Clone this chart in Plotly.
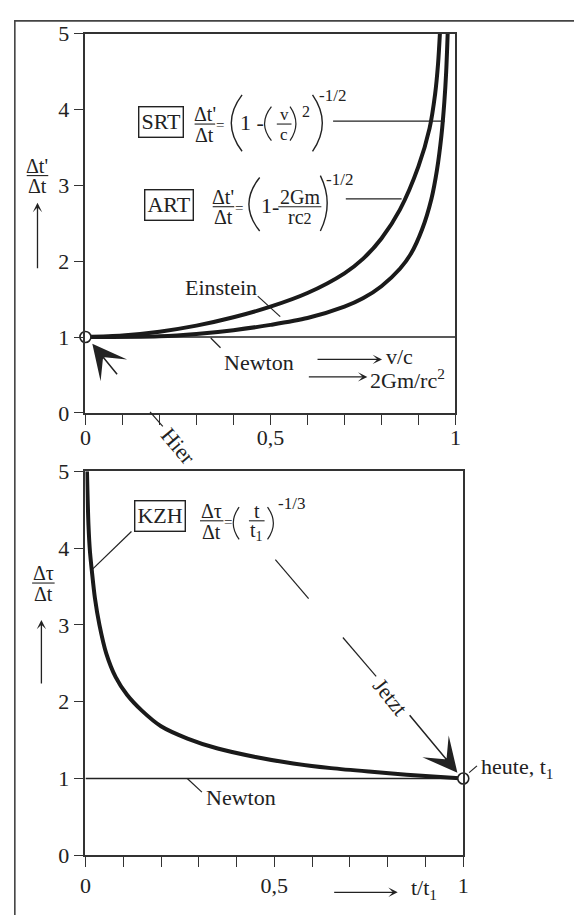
import plotly.graph_objects as go

# values
art_x = [0, 0.1, 0.2, 0.3, 0.4, 0.5, 0.6, 0.7, 0.75, 0.8, 0.85, 0.9, 0.93, 0.945, 0.953, 0.958]
art_y = [1.0, 1.02, 1.07, 1.15, 1.26, 1.40, 1.58, 1.84, 2.03, 2.30, 2.68, 3.25, 3.75, 4.2, 4.6, 5.0]

srt_x = [0, 0.2, 0.3, 0.4, 0.5, 0.6, 0.7, 0.75, 0.8, 0.85, 0.88, 0.91, 0.935, 0.95, 0.962,
         0.97, 0.975, 0.979]
srt_y = [1.0, 1.01, 1.04, 1.09, 1.16, 1.25, 1.40, 1.51, 1.67, 1.90, 2.10, 2.42, 2.82, 3.2, 3.65,
         4.1, 4.5, 5.0]

kzh_x = [0.004, 0.008, 0.012, 0.017, 0.025, 0.037, 0.055, 0.08, 0.11, 0.15, 0.2, 0.27, 0.35,
         0.45, 0.55, 0.65, 0.75, 0.85, 1.0]
kzh_y = [5.0, 4.3, 3.95, 3.7, 3.35, 3.0, 2.63, 2.32, 2.09, 1.88, 1.68, 1.52, 1.39,
         1.28, 1.195, 1.135, 1.09, 1.05, 1.0]

newton_x = [0, 1]
newton_y = [1, 1]

x_ticks = [0, 0.1, 0.2, 0.3, 0.4, 0.5, 0.6, 0.7, 0.8, 0.9, 1]
x_tick_text = ["0", "", "", "", "", "0,5", "", "", "", "", "1"]
y_ticks = [0, 1, 2, 3, 4, 5]
y_tick_text = ["0", "1", "2", "3", "4", "5"]

# the page keeps its 8px body margin, so the figure is 16px smaller than the window
OFF = 8
W, H = 582 - 2 * OFF, 923 - 2 * OFF
SERIF = "Liberation Serif"
INK = "#222222"


def px(x):
    return (x - OFF) / W


def py(y):
    return 1 - (y - OFF) / H


annotations = []
shapes = []


def label(x, y, text, size=22, xanchor="center", yanchor="middle", **kw):
    annotations.append(dict(x=px(x), y=py(y), xref="paper", yref="paper", text=text,
                            xanchor=xanchor, yanchor=yanchor, showarrow=False,
                            font=dict(family=SERIF, size=size, color=INK), **kw))


def seg(x0, y0, x1, y1, w=1.2):
    shapes.append(dict(type="line", xref="paper", yref="paper", x0=px(x0), y0=py(y0),
                       x1=px(x1), y1=py(y1), line=dict(color=INK, width=w)))


def paren(x_end, x_mid, y0, y1, w=1.4):
    c = 2 * x_mid - x_end
    path = f"M {px(x_end)},{py(y0)} Q {px(c)},{py((y0 + y1) / 2)} {px(x_end)},{py(y1)}"
    shapes.append(dict(type="path", xref="paper", yref="paper", path=path,
                       line=dict(color=INK, width=w)))


def frac(cx, ybar, w, num, den, size=20, up=10, dn=11):
    label(cx, ybar - up, num, size)
    label(cx, ybar + dn, den, size)
    seg(cx - w / 2, ybar, cx + w / 2, ybar, 1.1)


def arrow(x0, y0, x1, y1, size=1.2, width=1.3, head=3):
    annotations.append(dict(x=px(x1), y=py(y1), xref="paper", yref="paper", text="",
                            showarrow=True, ax=x0 - x1, ay=y0 - y1, arrowhead=head,
                            arrowsize=size, arrowwidth=width, arrowcolor=INK, standoff=0))


fig = go.Figure()

curve = dict(color="#1a1a1a", width=4)
fig.add_trace(go.Scatter(x=newton_x, y=newton_y, mode="lines", line=dict(color=INK, width=1.3),
                         xaxis="x", yaxis="y"))
fig.add_trace(go.Scatter(x=art_x, y=art_y, mode="lines",
                         line=dict(shape="spline", smoothing=0.8, **curve), xaxis="x", yaxis="y"))
fig.add_trace(go.Scatter(x=srt_x, y=srt_y, mode="lines",
                         line=dict(shape="spline", smoothing=0.8, **curve), xaxis="x", yaxis="y"))
fig.add_trace(go.Scatter(x=[0], y=[1], mode="markers", cliponaxis=False,
                         marker=dict(size=11, color="white", line=dict(color=INK, width=1.6)),
                         xaxis="x", yaxis="y"))

fig.add_trace(go.Scatter(x=newton_x, y=newton_y, mode="lines", line=dict(color=INK, width=1.3),
                         xaxis="x2", yaxis="y2"))
fig.add_trace(go.Scatter(x=kzh_x, y=kzh_y, mode="lines",
                         line=dict(shape="spline", smoothing=0.8, **curve), xaxis="x2", yaxis="y2"))
fig.add_trace(go.Scatter(x=[1], y=[1], mode="markers", cliponaxis=False,
                         marker=dict(size=11, color="white", line=dict(color=INK, width=1.6)),
                         xaxis="x2", yaxis="y2"))

axis = dict(showline=True, linecolor="#333333", linewidth=1.5, mirror=True, ticks="outside",
            ticklen=10, tickwidth=1.4, tickcolor="#333333", showgrid=False, zeroline=False,
            fixedrange=True, tickfont=dict(family=SERIF, size=22, color=INK))

# top panel: SRT / ART
label(158, 113, "SRT", 22, bordercolor=INK, borderwidth=1.4, borderpad=2)
frac(203, 115, 21, "Δt'", "Δt")
label(218, 116, "=", 15)
paren(241, 230, 85, 143)
label(251, 113, "1 -", 22)
paren(271, 264, 97, 132, 1.2)
frac(284, 115, 15, "v", "c", 17)
paren(290, 296, 97, 132, 1.2)
label(306, 102, "2", 16)
paren(313, 323, 85, 143)
label(333, 86, "-1/2", 17)
seg(334, 112, 448, 112)

label(166, 198, "ART", 22, bordercolor=INK, borderwidth=1.4, borderpad=2)
frac(222, 200, 22, "Δt'", "Δt")
label(238, 201, "=", 15)
paren(259, 248, 170, 225)
label(266, 199, "1", 22)
label(275, 200, "-", 22)
frac(300, 200, 44, "2Gm", "rc<span style='font-size:16px'>2</span>", 20)
paren(321, 328, 168, 225)
label(341, 172, "-1/2", 17)
seg(347, 192, 404, 192)

label(219, 283, "Einstein", 22)
seg(257, 292, 280, 313)
label(258, 360, "Newton", 22)
seg(209, 335, 219, 345)

arrow(318, 357, 384, 357)
label(402, 354, "v/c", 22)
arrow(309, 375, 369, 375)
label(410, 377, "2Gm/rc<sup>2</sup>", 22)

frac(32, 168, 22, "Δt'", "Δt")
arrow(32, 263, 32, 196)

arrow(114, 373, 88, 341, 3.8, 1.5)
seg(147, 411, 160, 426)
label(176, 447, "Hier", 22, textangle=50)

# bottom panel: KZH
label(157, 518, "KZH", 22, bordercolor=INK, borderwidth=1.4, borderpad=2)
seg(128, 534, 88, 573)
frac(210, 523, 24, "Δτ", "Δt")
label(227, 524, "=", 15)
paren(238, 232, 509, 542, 1.2)
frac(256, 523, 16, "t", "t<sub>1</sub>", 20)
paren(267, 273, 509, 542, 1.2)
label(291, 505, "-1/3", 17)

seg(275, 563, 309, 603)
seg(344, 643, 378, 683)
label(392, 704, "Jetzt", 22, textangle=51)
arrow(412, 723, 461, 782, 3.8, 1.5)

label(483, 777, "heute, t<sub>1</sub>", 22, xanchor="left")
seg(473, 782, 481, 775)

label(240, 808, "Newton", 22)
seg(185, 788, 200, 802)

frac(38, 587, 23, "Δτ", "Δt")
arrow(36, 690, 36, 625)

arrow(335, 905, 400, 905)
label(412, 902, "t/t<sub>1</sub>", 22, xanchor="left")

# frame round the whole picture
shapes.append(dict(type="rect", xref="paper", yref="paper", x0=0.0015, y0=-0.1, x1=1.1,
                   y1=0.999, line=dict(color="#444444", width=1.6)))

fig.update_layout(
    width=W, height=H,
    margin=dict(l=0, r=0, t=0, b=0),
    paper_bgcolor="white", plot_bgcolor="white",
    showlegend=False,
    xaxis=dict(domain=[px(81), px(459)], range=[0, 1], tickvals=x_ticks, ticktext=x_tick_text,
               anchor="y", ticklabelstandoff=-6, **axis),
    yaxis=dict(domain=[py(412), py(22)], range=[0, 5], tickvals=y_ticks, ticktext=y_tick_text,
               anchor="x", **axis),
    xaxis2=dict(domain=[px(81), px(467)], range=[0, 1], tickvals=x_ticks, ticktext=x_tick_text,
                anchor="y2", **axis),
    yaxis2=dict(domain=[py(867), py(472)], range=[0, 5], tickvals=y_ticks, ticktext=y_tick_text,
                anchor="x2", **axis),
    annotations=annotations,
    shapes=shapes,
)

fig.write_html("out.html", config={"displayModeBar": False, "responsive": False})
